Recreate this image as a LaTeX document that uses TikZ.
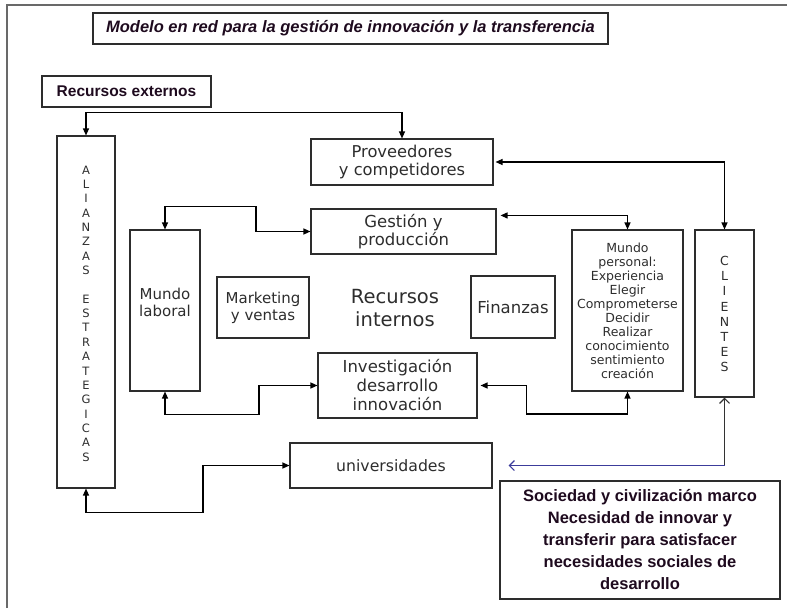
\documentclass[tikz,border=0pt]{standalone}
\usepackage{fontspec}
\setmainfont{DejaVu Sans}
\newfontfamily\arialf{Liberation Sans}
\usetikzlibrary{arrows.meta}

\definecolor{boxline}{RGB}{45,45,45}
\definecolor{framegray}{RGB}{105,105,105}
\definecolor{bluel}{RGB}{60,60,155}
\definecolor{darkt}{RGB}{30,10,30}
\definecolor{boxtext}{RGB}{45,45,45}

\newcommand{\fsz}[2]{\fontsize{#1}{#2}\selectfont}

\begin{document}
\begin{tikzpicture}[x=1pt,y=-1pt,
  box/.style={draw=boxline, line width=1.1pt, rectangle, inner sep=0pt, align=center, text=boxtext},
  boldbox/.style={draw=boxline, line width=1.1pt, rectangle, inner sep=0pt, align=center, text=darkt},
  conn/.style={draw=black, line width=1.2pt, {Triangle[length=7pt,width=6pt]}-{Triangle[length=7pt,width=6pt]}},
  plain/.style={inner sep=0pt, align=center, text=boxtext},
]
\useasboundingbox (0,0) rectangle (787,608);

% outer frame (top and left edges visible)
\draw[framegray, line width=1.8pt] (7,608) -- (7,5) -- (787,5);

% title
\node[boldbox, minimum width=515pt, minimum height=31pt, font=\arialf\bfseries\itshape\fsz{16.5}{18}] (title) at (350.5,28.5) {Modelo en red para la gestión de innovación y la transferencia};

% recursos externos
\node[boldbox, minimum width=169pt, minimum height=31pt, font=\arialf\bfseries\fsz{15.5}{18}] (recext) at (126.5,91.5) {Recursos externos};

% alianzas estrategicas
\node[box, minimum width=58pt, minimum height=352pt] (ali) at (86,312) {};
\node[plain, font=\fsz{11.5}{14.35}] (alitext) at (86,313.5) {A\\L\\I\\A\\N\\Z\\A\\S\\[14.35pt]E\\S\\T\\R\\A\\T\\E\\G\\I\\C\\A\\S};

% proveedores
\node[box, minimum width=182pt, minimum height=46pt, font=\fsz{16.3}{18}] (prov) at (402,162) {Proveedores\\y competidores};

% gestion
\node[box, minimum width=185pt, minimum height=45pt, font=\fsz{16.5}{17.5}] (gest) at (403.5,231.5) {Gestión y\\producción};

% mundo laboral
\node[box, minimum width=70pt, minimum height=161pt] (mlab) at (165,310.5) {};
\node[plain, font=\fsz{15}{17}] (mlabtext) at (165,302) {Mundo\\laboral};

% marketing
\node[box, minimum width=92pt, minimum height=61pt, font=\fsz{15}{17}] (mark) at (263,307.5) {Marketing\\y ventas};

% recursos internos
\node[plain, font=\fsz{19.5}{23.5}] (recint) at (395,308) {Recursos\\internos};

% finanzas
\node[box, minimum width=84pt, minimum height=62pt, font=\fsz{16.5}{18}] (fin) at (513,307) {Finanzas};

% mundo personal
\node[box, minimum width=111pt, minimum height=161pt, font=\fsz{12.5}{14}] (mper) at (627.5,310.5) {Mundo\\personal:\\Experiencia\\Elegir\\Comprometerse\\Decidir\\Realizar\\conocimiento\\sentimiento\\creación};

% clientes
\node[box, minimum width=59pt, minimum height=167pt] (cli) at (724.5,313.5) {};
\node[plain, font=\fsz{12.5}{15.1}] (clitext) at (724.5,314) {C\\L\\I\\E\\N\\T\\E\\S};

% investigacion
\node[box, minimum width=159pt, minimum height=65pt, font=\fsz{16.5}{19}] (inv) at (397.5,385.5) {Investigación\\desarrollo\\innovación};

% universidades
\node[box, minimum width=202pt, minimum height=45pt, font=\fsz{15.7}{18}] (univ) at (391,465.5) {universidades};

% sociedad
\node[boldbox, minimum width=280pt, minimum height=118pt, font=\arialf\bfseries\fsz{16.5}{22}] (soc) at (640,540) {Sociedad y civilización marco\\Necesidad de innovar y\\transferir para satisfacer\\necesidades sociales de\\desarrollo};

% connectors
\draw[conn] (ali.north) -- ++(0,-23) -| (prov.north);
\draw[conn, shorten <=2pt] (prov.east) -| (cli.north);
\coordinate (gestR) at ([shift={(4,7)}]gest.north east);
\draw[conn] (gestR) -| (mper.north);
\draw[conn] (mlab.north) -- ++(0,-23) -- ++(91,0) |- (gest.west);
\draw[conn] (mlab.south) -- ++(0,23) -- ++(94,0) |- (inv.west);
\draw[conn, shorten <=3pt] (inv.east) -- ++(49,0) -- ++(0,28.5) -| (mper.south);
\draw[conn] (ali.south) -- ++(0,24) -- ++(117,0) |- (univ.west);

% societal link
\coordinate (bend) at (cli.south |- univ.east);
\coordinate (univR) at ([xshift=16pt]univ.east);
\draw[black!80, line width=1.2pt, -{Straight Barb[length=5pt,width=10pt]}] (bend) -- (cli.south);
\draw[bluel, line width=1.2pt, -{Straight Barb[length=5pt,width=10pt]}] (bend) -- (univR);
\end{tikzpicture}
\end{document}
